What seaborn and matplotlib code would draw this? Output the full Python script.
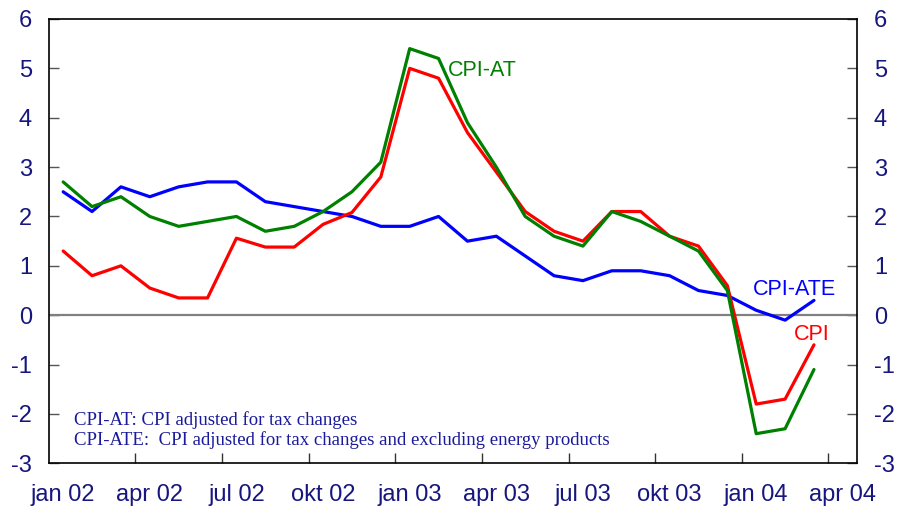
import pandas as pd
import numpy as np
import matplotlib
matplotlib.use("Agg")
import matplotlib.pyplot as plt
import seaborn as sns

# monthly data, jan 02 .. mar 04
months = ["jan 02", "feb 02", "mar 02", "apr 02", "mai 02", "jun 02", "jul 02", "aug 02", "sep 02",
          "okt 02", "nov 02", "des 02", "jan 03", "feb 03", "mar 03", "apr 03", "mai 03", "jun 03",
          "jul 03", "aug 03", "sep 03", "okt 03", "nov 03", "des 03", "jan 04", "feb 04", "mar 04"]
cpi = [1.3, 0.8, 1.0, 0.55, 0.35, 0.35, 1.56, 1.38, 1.38, 1.84, 2.08, 2.8, 5.0, 4.8,
       3.7, 2.9, 2.1, 1.7, 1.5, 2.1, 2.1, 1.6, 1.4, 0.6, -1.8, -1.7, -0.6]
cpi_at = [2.7, 2.2, 2.4, 2.0, 1.8, 1.9, 2.0, 1.7, 1.8, 2.1, 2.5, 3.1, 5.4, 5.2,
          3.9, 3.0, 2.0, 1.6, 1.4, 2.1, 1.9, 1.6, 1.3, 0.5, -2.4, -2.3, -1.1]
cpi_ate = [2.5, 2.1, 2.6, 2.4, 2.6, 2.7, 2.7, 2.3, 2.2, 2.1, 2.0, 1.8, 1.8, 2.0,
           1.5, 1.6, 1.2, 0.8, 0.7, 0.9, 0.9, 0.8, 0.5, 0.4, 0.1, -0.1, 0.3]
tick_labels = ["jan 02", "apr 02", "jul 02", "okt 02", "jan 03",
               "apr 03", "jul 03", "okt 03", "jan 04", "apr 04"]
note_lines = ["CPI-AT: CPI adjusted for tax changes",
              "CPI-ATE:  CPI adjusted for tax changes and excluding energy products"]

n = len(months)
df = pd.DataFrame({
    "pos": list(range(n)) * 3,
    "value": cpi + cpi_at + cpi_ate,
    "series": ["CPI"] * n + ["CPI-AT"] * n + ["CPI-ATE"] * n,
})
palette = {"CPI": "#ff0000", "CPI-AT": "#008000", "CPI-ATE": "#0000ff"}
navy = "#16167e"

sns.set_theme(style="white")
plt.rcParams["font.family"] = ["Liberation Sans", "DejaVu Sans"]
plt.rcParams["axes.unicode_minus"] = False

fig = plt.figure(figsize=(8.99, 5.12), dpi=100)
ax = fig.add_axes([0.0542, 0.0951, 0.8994, 0.8678])

ax.axhline(0, color="#808080", lw=1.6, zorder=1)
sns.lineplot(data=df, x="pos", y="value", hue="series", palette=palette,
             hue_order=["CPI-ATE", "CPI", "CPI-AT"], lw=2.3, legend=False, ax=ax, zorder=3)

ax.set_xlim(-0.5, 27.5)
ax.set_ylim(-3, 6)
ax.set_xlabel("")
ax.set_ylabel("")

ax.set_xticks(np.arange(0, 28, 3))
ax.set_xticklabels(tick_labels)
ax.set_xticks(np.arange(2.5, 27, 3), minor=True)
ax.tick_params(axis="x", which="major", length=0, pad=15, labelsize=17, labelcolor=navy)
ax.tick_params(axis="x", which="minor", bottom=True, direction="in", length=7,
               width=1, color="#333333")

ax.set_yticks(range(-3, 7))
ax.tick_params(axis="y", left=True, right=True, labelleft=True, labelright=True,
               direction="in", length=7, width=1, color="#555555",
               labelsize=17, labelcolor=navy, pad=12)

for s in ax.spines.values():
    s.set_color("black")
    s.set_linewidth(1.2)

ax.text(13.32, 4.84, "CPI-AT", color="#008000", fontsize=15.5, va="baseline")
ax.text(23.88, 0.40, "CPI-ATE", color="#0000ff", fontsize=15.5, va="baseline")
ax.text(25.29, -0.51, "CPI", color="#ff0000", fontsize=15.5, va="baseline")

ax.text(0.38, -2.23, note_lines[0], color="#1a1a9a", fontsize=13.5,
        family="Liberation Serif", va="baseline")
ax.text(0.38, -2.63, note_lines[1], color="#1a1a9a", fontsize=13.5,
        family="Liberation Serif", va="baseline")

fig.savefig("out.png", dpi=100)
